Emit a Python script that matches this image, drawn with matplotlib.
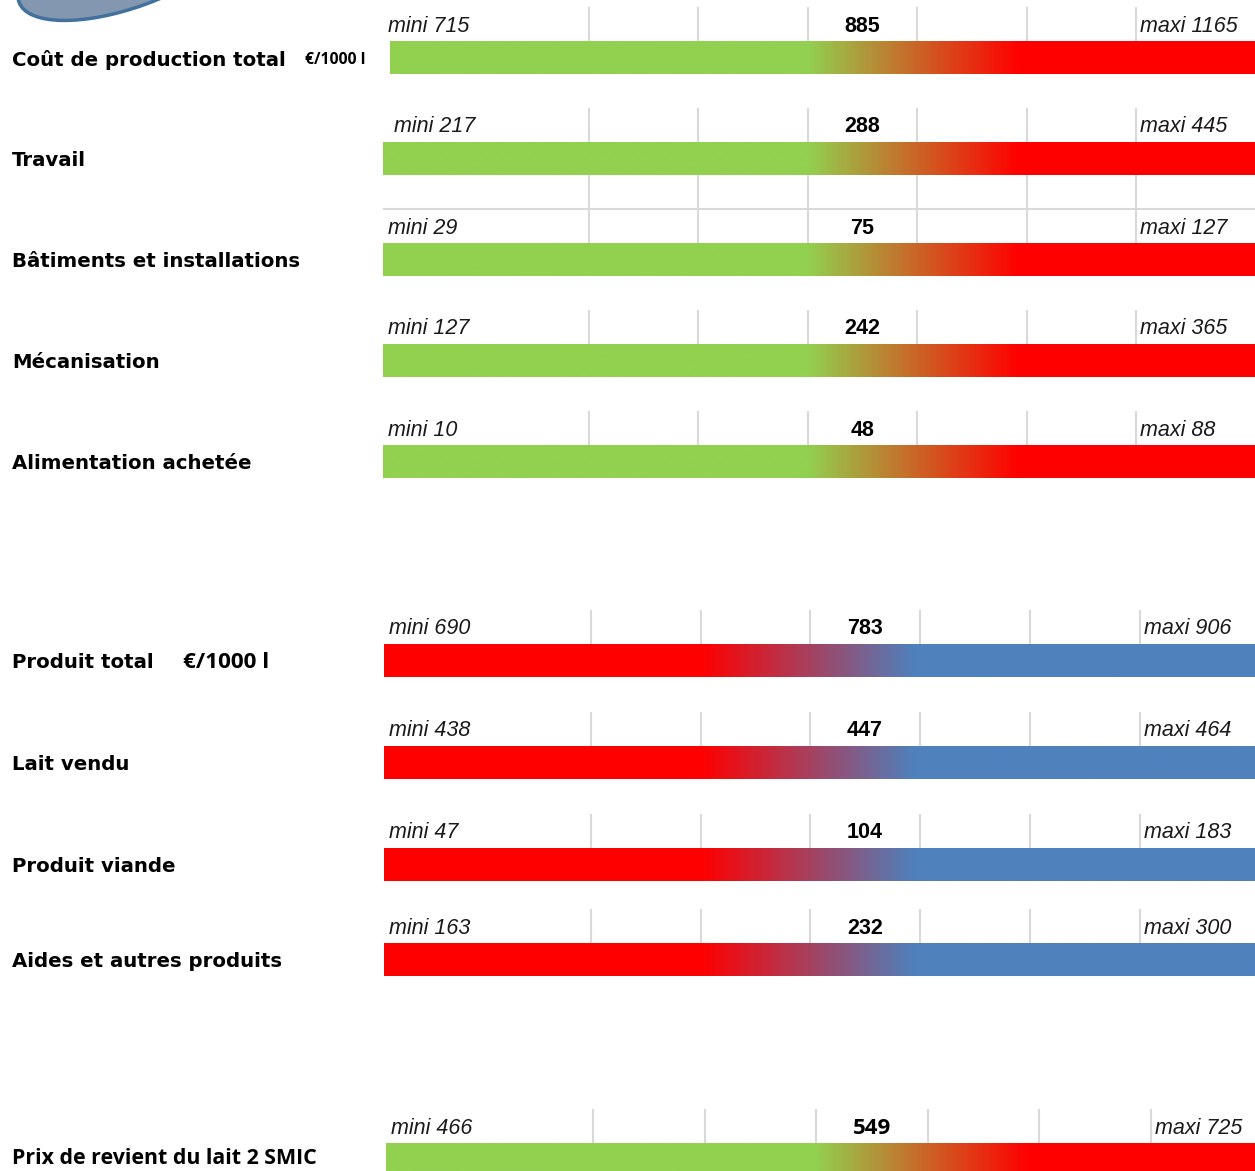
import numpy as np
import matplotlib
matplotlib.use("Agg")
import matplotlib.pyplot as plt
from matplotlib.colors import LinearSegmentedColormap
from matplotlib.patches import Ellipse


# Values
cost_labels = ["Coût de production total", "Travail", "Bâtiments et installations",
               "Mécanisation", "Alimentation achetée"]
cost_mini = [715, 217, 29, 127, 10]
cost_value = [885, 288, 75, 242, 48]
cost_maxi = [1165, 445, 127, 365, 88]

prod_labels = ["Produit total", "Lait vendu", "Produit viande", "Aides et autres produits"]
prod_mini = [690, 438, 47, 163]
prod_value = [783, 447, 104, 232]
prod_maxi = [906, 464, 183, 300]

prix_label = "Prix de revient du lait 2 SMIC"
prix_mini = 466
prix_value = 549
prix_maxi = 725

unit = "€/1000 l"

GREEN = "#92D050"
RED = "#FF0000"
BLUE = "#4F81BD"
GRID = "#D9D9D9"

W, H = 1255, 1171
BAR_H = 33
X_END = W

fig = plt.figure(figsize=(W / 100, H / 100), dpi=100)
ax = fig.add_axes([0, 0, 1, 1])
ax.set_xlim(0, W)
ax.set_ylim(H, 0)
ax.axis("off")


def gauge(top, x0, grid, c_left, c_right, g_start, g_end,
          mini, value, maxi, mini_x, value_font="Liberation Sans", value_size=15.5):
    # vertical guide lines above the bar
    for gx in grid:
        ax.plot([gx, gx], [top - BAR_H, top], color=GRID, lw=1.5, zorder=1)
    bar = ax.barh(top + BAR_H / 2, X_END - x0, left=x0, height=BAR_H,
                  color="none", edgecolor="none", zorder=2)[0]
    span = X_END - x0
    p0 = (g_start - x0) / span
    p1 = (g_end - x0) / span
    cmap = LinearSegmentedColormap.from_list(
        "g", [(0, c_left), (p0, c_left), (p1, c_right), (1, c_right)])
    grad = np.linspace(0, 1, 600).reshape(1, -1)
    im = ax.imshow(grad, cmap=cmap, aspect="auto", extent=[x0, X_END, top + BAR_H, top],
                   zorder=2, interpolation="bilinear")
    im.set_clip_path(bar)

    ty = top - 15
    ax.text(mini_x, ty, f"mini {mini}", fontsize=15.5, style="italic",
            family="Liberation Sans", color="#1a1a1a", ha="left", va="center")
    ax.text((grid[2] + grid[3]) / 2, ty, f"{value}", fontsize=value_size, weight="bold",
            family=value_font, color="black", ha="center", va="center")
    ax.text(grid[5] + 4, ty, f"maxi {maxi}", fontsize=15.5, style="italic",
            family="Liberation Sans", color="#1a1a1a", ha="left", va="center")


# decorative shape cut at the top-left corner
ax.add_patch(Ellipse((130, -38), 236, 90, angle=-20, facecolor="#8497B0",
                     edgecolor="#41719C", lw=2.5, zorder=3))

# 1. Cost section
cost_tops = [41, 142, 243, 344, 445]
cost_x0 = [390, 383, 383, 383, 383]
cost_mini_x = [388, 394, 388, 388, 388]
cost_grid = [589, 698, 808, 917, 1027, 1136]

# extra guide cells below "Travail"
for gx in cost_grid:
    ax.plot([gx, gx], [cost_tops[1] + BAR_H, 209], color=GRID, lw=1.5, zorder=1)
ax.plot([384, X_END], [209, 209], color=GRID, lw=1.5, zorder=1)

for i in range(len(cost_labels)):
    gauge(cost_tops[i], cost_x0[i], cost_grid, GREEN, RED, 808, 1020,
          cost_mini[i], cost_value[i], cost_maxi[i], cost_mini_x[i])
    ax.text(12, cost_tops[i] + BAR_H / 2 + 2, cost_labels[i], fontsize=14.2,
            weight="bold", family="DejaVu Sans", ha="left", va="center")
ax.text(305, cost_tops[0] + BAR_H / 2 + 2, unit, fontsize=11.3, weight="bold",
        family="Open Sans", ha="left", va="center")

# 2. Product section
prod_tops = [644, 746, 848, 943]
prod_grid = [591, 701, 810, 920, 1030, 1140]
for i in range(len(prod_labels)):
    gauge(prod_tops[i], 384, prod_grid, RED, BLUE, 701, 915,
          prod_mini[i], prod_value[i], prod_maxi[i], 389)
    ax.text(12, prod_tops[i] + BAR_H / 2 + 2, prod_labels[i], fontsize=14.2,
            weight="bold", family="DejaVu Sans", ha="left", va="center")
ax.text(183, prod_tops[0] + BAR_H / 2 + 2, unit, fontsize=16.2, weight="bold",
        family="Open Sans", ha="left", va="center")

# 3. Cost price
prix_grid = [593, 705, 816, 928, 1039, 1151]
gauge(1143, 386, prix_grid, GREEN, RED, 816, 1030,
      prix_mini, prix_value, prix_maxi, 391, value_font="Open Sans", value_size=16)
ax.text(12, 1159, prix_label, fontsize=15.4, weight="bold", family="Open Sans",
        ha="left", va="center")

plt.savefig("out.png", dpi=100)
plt.close()
